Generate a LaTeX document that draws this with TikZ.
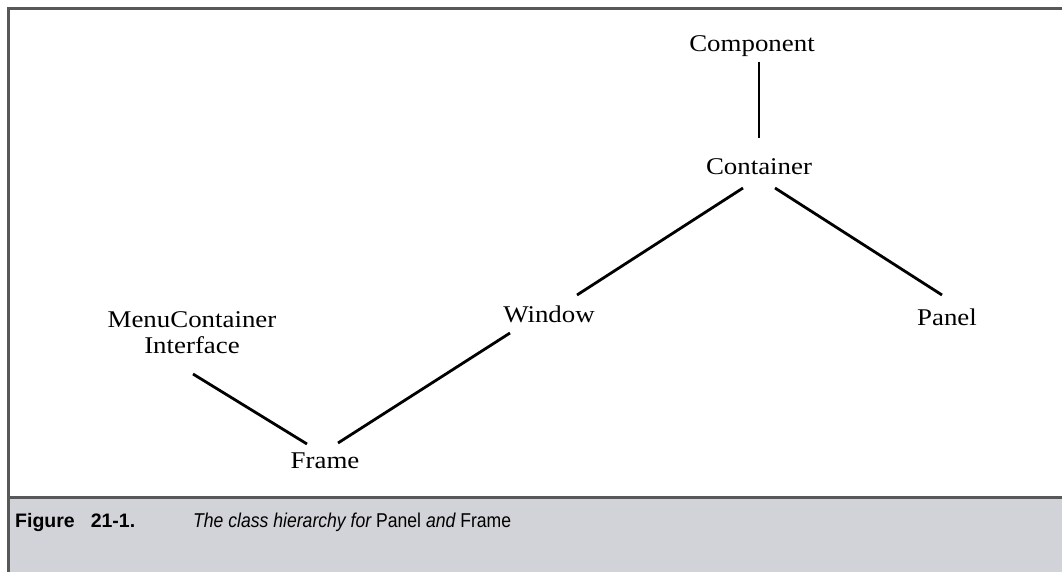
\documentclass[tikz,border=0pt]{standalone}
\usepackage{fontspec}
\setmainfont{Liberation Serif}[FakeStretch=1.12]
\newfontfamily\capfont{Liberation Sans}
\newfontfamily\capcond{Liberation Sans}[FakeStretch=0.88]
\definecolor{framegray}{HTML}{585858}
\definecolor{capbg}{HTML}{D2D3D8}
\begin{document}
\begin{tikzpicture}[x=1pt,y=-1pt,
  lbl/.style={font=\fontsize{24}{26}\selectfont, inner sep=0pt, anchor=base, align=center},
  edge/.style={line width=2.8pt, black},
  capbold/.style={anchor=base west, inner sep=0pt, font=\capfont\bfseries\fontsize{19.5}{22}\selectfont},
  captext/.style={anchor=base west, inner sep=0pt, font=\capcond\fontsize{20}{22}\selectfont}]
\useasboundingbox (0,0) rectangle (1062,572);
% frame and caption panel
\fill[capbg] (8.5,497) rectangle (1062,572);
\draw[framegray, line width=2.6pt] (1062,8.5) -- (8.5,8.5) -- (8.5,572);
\draw[framegray, line width=3pt] (8.5,497) -- (1062,497);
% nodes
\node[lbl] (component) at (752,52) {Component};
\node[lbl] (container) at (759,175) {Container};
\node[lbl] (window) at (549,322) {Window};
\node[lbl] (panel) at (947,325) {Panel};
\node[lbl] (menu) at (192,353) {MenuContainer\\Interface};
\node[lbl] (frame) at (325,468) {Frame};
% connectors
\draw[edge] ([xshift=7pt,yshift=-10pt]component.base) -- ([yshift=37pt]container.base);
\draw[edge] ([xshift=-16pt,yshift=-13pt]container.base) -- ([xshift=28pt,yshift=27pt]window.base);
\draw[edge] ([xshift=16pt,yshift=-13pt]container.base) -- ([xshift=-5pt,yshift=30pt]panel.base);
\draw[edge] ([xshift=-39pt,yshift=-11pt]window.base) -- ([xshift=13pt,yshift=25pt]frame.base);
\draw[edge] ([xshift=1pt,yshift=-21pt]menu.base) -- ([xshift=-18pt,yshift=24pt]frame.base);
% caption
\node[capbold] (fig) at (15,527) {Figure\hspace{16pt}21-1.};
\node[captext] (cap) at (193,527) {\itshape The class hierarchy for \upshape Panel \itshape and \upshape Frame};
\end{tikzpicture}
\end{document}
